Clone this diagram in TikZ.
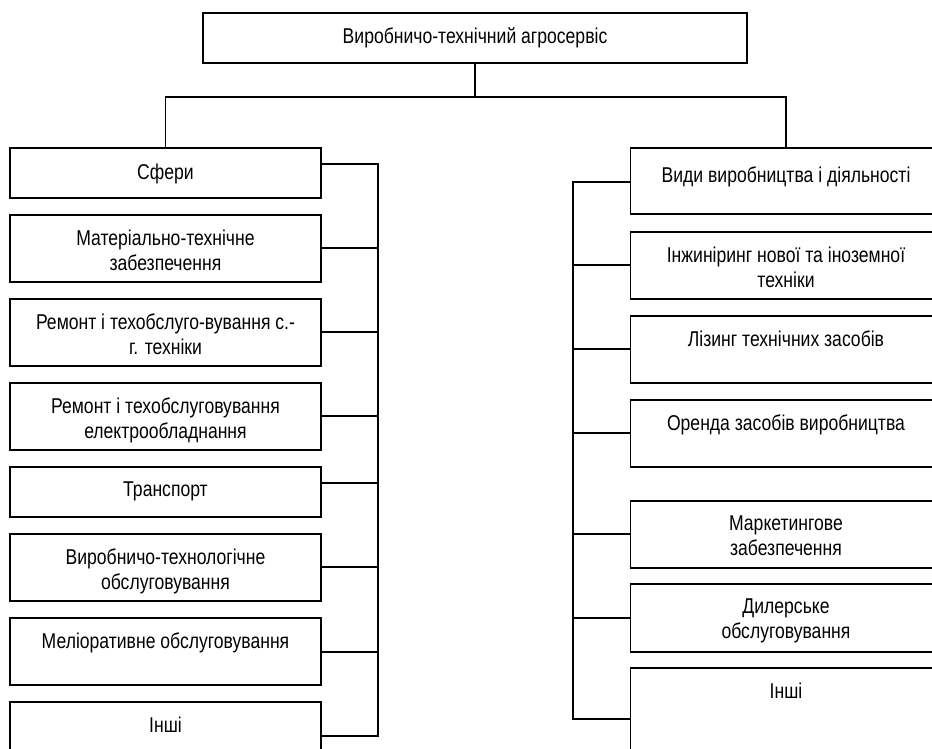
\documentclass[tikz,border=0pt]{standalone}
\usepackage{fontspec}
\setmainfont{Liberation Sans}[FakeStretch=0.82]
\usetikzlibrary{positioning}

\begin{document}
\begin{tikzpicture}[
    x=0.02cm, y=-0.02cm,
    every node/.style={font=\fontsize{12.2}{14.2}\selectfont},
    itembox/.style={
        draw=black,
        line width=0.9pt,
        minimum width=6.22cm,
        inner sep=0pt
    },
    itemtext/.style={align=center, inner sep=0pt},
    link/.style={draw=black, line width=0.8pt, line cap=rect}
]

% ---------- page frame ----------
\useasboundingbox (0,0) rectangle (932,748);
\clip (0,0) rectangle (932,748);

% ---------- macro to draw one box ----------
% #1 = name, #2 = x centre, #3 = top, #4 = height
% #5 = gap above the text, #6 = text
\newcommand{\drawitem}[6]{
    \node[itembox, minimum height=#4*0.02cm] (#1) at (#2,#3+#4/2) {};
    \node[itemtext, below=#5 of #1.north] (#1-t) {#6};
}

% ---------- head box ----------
\node[itembox, minimum width=10.88cm, minimum height=1cm] (top) at (475,38)
    {Виробничо-технічний агросервіс};

% ---------- left column: spheres ----------
\drawitem{l1}{165.5}{148}{50}{0.33cm}{Сфери}
\drawitem{l2}{165.5}{215}{67}{0.30cm}{Матеріально-технічне\\забезпечення}
\drawitem{l3}{165.5}{299}{67}{0.30cm}{Ремонт і техобслуго-вування с.-\\г. техніки}
\drawitem{l4}{165.5}{383}{67}{0.30cm}{Ремонт і техобслуговування\\електрообладнання}
\drawitem{l5}{165.5}{467}{50}{0.30cm}{Транспорт}
\drawitem{l6}{165.5}{534}{67}{0.30cm}{Виробничо-технологічне\\обслуговування}
\drawitem{l7}{165.5}{618}{67}{0.30cm}{Меліоративне обслуговування}
\drawitem{l8}{165.5}{702}{67}{0.30cm}{Інші}

% ---------- right column: kinds of activity ----------
\drawitem{r1}{786}{148}{66}{0.38cm}{Види виробництва і діяльності}
\drawitem{r2}{786}{232}{67}{0.30cm}{Інжиніринг нової та іноземної\\техніки}
\drawitem{r3}{786}{316}{67}{0.30cm}{Лізинг технічних засобів}
\drawitem{r4}{786}{400}{67}{0.30cm}{Оренда засобів виробництва}
\drawitem{r5}{786}{501}{67}{0.30cm}{Маркетингове\\забезпечення}
\drawitem{r6}{786}{584}{68}{0.30cm}{Дилерське\\обслуговування}
\drawitem{r7}{786}{668}{100}{0.30cm}{Інші}

% ---------- tree from the head box ----------
\coordinate (hbar) at (0,97);
\draw[link] (top.south) -- (top.south |- hbar);
\draw[link] (l1.north) |- (r1.north |- hbar) -- (r1.north);

% ---------- left bus ----------
\foreach \i/\y in {1/164,2/248,3/332,4/416,5/483,6/567,7/652,8/736}{
    \coordinate (lb\i) at (378,\y);
    \draw[link] (l\i.east |- lb\i) -- (lb\i);
}
\draw[link] (lb1) -- (lb8);

% ---------- right bus ----------
\foreach \i/\y in {1/182,2/265,3/349,4/433,5/534,6/618,7/719}{
    \coordinate (rb\i) at (573,\y);
    \draw[link] (rb\i) -- (r\i.west |- rb\i);
}
\draw[link] (rb1) -- (rb7);

\end{tikzpicture}
\end{document}
